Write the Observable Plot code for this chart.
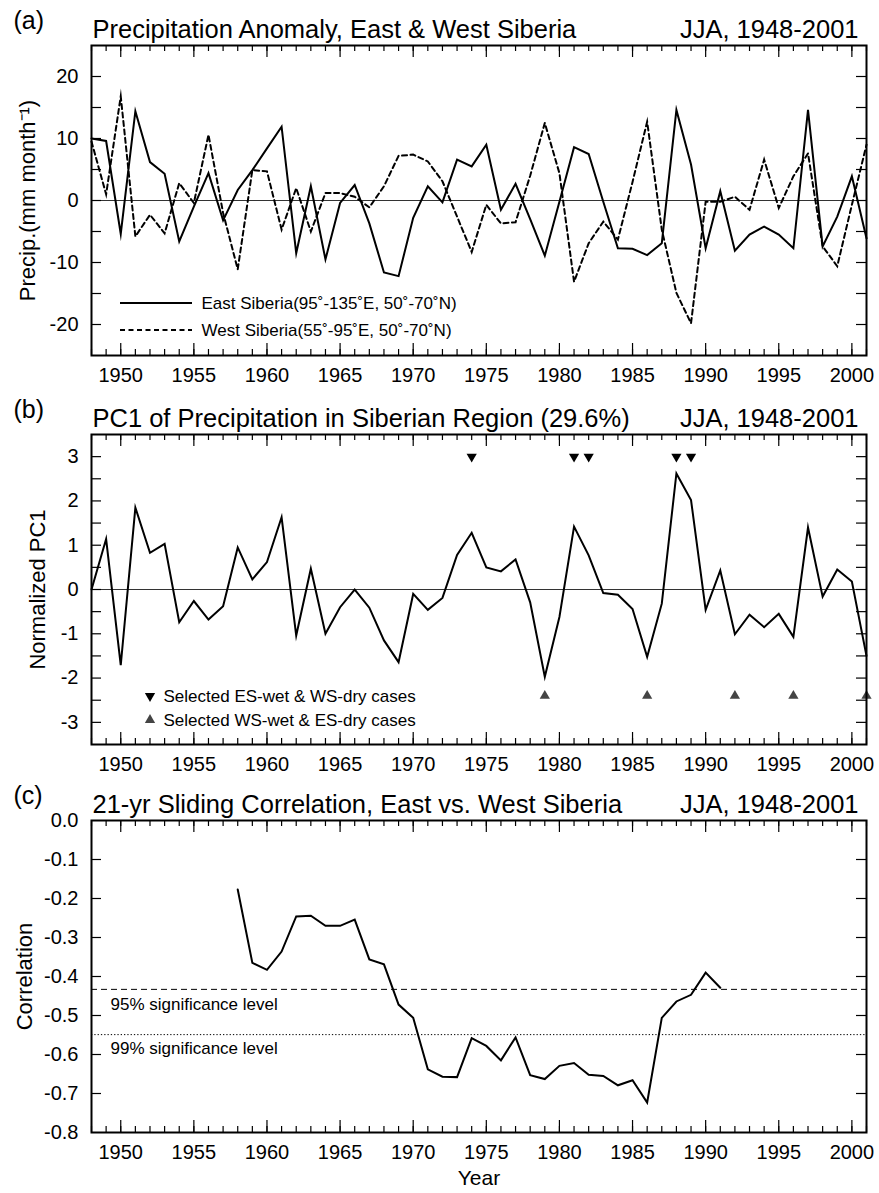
<!DOCTYPE html>
<html>
<head>
<meta charset="utf-8">
<script src="https://cdn.jsdelivr.net/npm/d3@7"></script>
<script src="https://cdn.jsdelivr.net/npm/@observablehq/plot@0.6"></script>
<style>
  body { margin: 0; background: #fff; }
  #chart { width: 879px; }
  #chart svg { display: block; }
</style>
</head>
<body>
<div id="chart"></div>
<script>
// ---------------- DATA ----------------
const startYear = 1948, endYear = 2001;
const years = d3.range(startYear, endYear + 1);
const xLabelYears = [1950, 1955, 1960, 1965, 1970, 1975, 1980, 1985, 1990, 1995, 2000];

// (a) JJA precipitation anomaly (mm/month)
const eastSiberia = [10.0, 9.6, -5.4, 14.4, 6.2, 4.3, -6.6, -1.0, 4.4, -3.2,
  1.7, 4.9, 8.4, 11.9, -8.5, 2.3, -9.5, -0.4, 2.5, -3.7,
  -11.6, -12.2, -2.8, 2.3, -0.3, 6.6, 5.5, 9.0, -1.5, 2.7,
  -3.0, -8.9, -0.2, 8.6, 7.5, -0.2, -7.7, -7.8, -8.8, -6.9,
  14.6, 5.8, -7.7, 1.5, -8.1, -5.5, -4.2, -5.5, -7.7, 14.6,
  -7.4, -2.6, 3.9, -6.1];
const westSiberia = [9.5, 1.0, 16.8, -5.8, -2.3, -5.3, 2.8, -0.4, 10.6, -2.0,
  -11.1, 4.9, 4.7, -4.7, 2.0, -5.0, 1.2, 1.2, 0.6, -1.1,
  2.3, 7.2, 7.4, 6.3, 3.1, -2.6, -8.3, -0.7, -3.7, -3.5,
  4.0, 12.5, 4.4, -13.1, -6.9, -3.4, -6.3, 3.0, 12.7, -4.7,
  -14.9, -19.8, -0.2, -0.2, 0.6, -1.5, 6.6, -1.2, 3.9, 7.6,
  -7.4, -10.6, -0.7, 9.0];
const aTickLabels = [-20, -10, 0, 10, 20];
const aTicks = [-20, -15, -10, -5, 0, 5, 10, 15, 20];

// (b) Normalized PC1
const pc1 = [0.0, 1.14, -1.71, 1.85, 0.83, 1.03, -0.74, -0.26, -0.68, -0.38,
  0.95, 0.23, 0.62, 1.63, -1.04, 0.47, -1.0, -0.4, 0.0, -0.41,
  -1.15, -1.64, -0.1, -0.46, -0.19, 0.78, 1.28, 0.50, 0.41, 0.68,
  -0.29, -1.97, -0.62, 1.42, 0.77, -0.08, -0.12, -0.44, -1.52, -0.32,
  2.62, 2.02, -0.46, 0.43, -1.01, -0.57, -0.85, -0.55, -1.07, 1.40,
  -0.16, 0.45, 0.18, -1.5];
const esWetCases = [1974, 1981, 1982, 1988, 1989];
const wsWetCases = [1979, 1986, 1992, 1996, 2001];
const esWetLevel = 3;
const wsWetLevel = -2.4;
const bTickLabels = [-3, -2, -1, 0, 1, 2, 3];
const bTicks = [-3, -2.5, -2, -1.5, -1, -0.5, 0, 0.5, 1, 1.5, 2, 2.5, 3];

// (c) 21-yr sliding correlation
const corrYears = d3.range(1958, 1992);
const slidingCorr = [-0.177, -0.365, -0.383, -0.336, -0.246, -0.244, -0.270, -0.270, -0.254, -0.356,
  -0.369, -0.472, -0.506, -0.638, -0.657, -0.658, -0.558, -0.578, -0.615, -0.556,
  -0.653, -0.663, -0.629, -0.622, -0.652, -0.655, -0.679, -0.666, -0.723, -0.506,
  -0.464, -0.447, -0.390, -0.429];
const sig95 = -0.433, sig99 = -0.549;
const cTickLabels = [0, -0.1, -0.2, -0.3, -0.4, -0.5, -0.6, -0.7, -0.8];
const cTicks = [-0.1, -0.2, -0.3, -0.4, -0.5, -0.6, -0.7];

// ---------------- LAYOUT ----------------
const W = 879, ML = 91, MR = 13;
const FONT = "'Liberation Sans', Arial, Helvetica, sans-serif";
const majorYears = d3.range(1950, 2001, 5);

function panel({height, mt, mb, yDomain, yTicks, yLabels, yFmt, marks, ytitle, ytitleDx, letter, title, extra = []}) {
  const ph = height - mt - mb, pw = W - ML - MR;
  return Plot.plot({
    width: W, height,
    marginLeft: ML, marginRight: MR, marginTop: mt, marginBottom: mb,
    style: {fontFamily: FONT, fontSize: "20px", background: "#fff", color: "#000", overflow: "visible"},
    x: {domain: [startYear, endYear], label: null},
    y: {domain: yDomain, label: null},
    marks: [
      ...marks,
      // inner ticks (all four sides)
      Plot.tickX(years, {x: d => d, insetTop: ph - 6, stroke: "#000", strokeWidth: 1.2}),
      Plot.tickX(years, {x: d => d, insetBottom: ph - 6, stroke: "#000", strokeWidth: 1.2}),
      Plot.tickX(majorYears, {x: d => d, insetTop: ph - 12, stroke: "#000", strokeWidth: 1.2}),
      Plot.tickX(majorYears, {x: d => d, insetBottom: ph - 12, stroke: "#000", strokeWidth: 1.2}),
      Plot.tickY(yTicks, {y: d => d, insetRight: pw - 10, stroke: "#000", strokeWidth: 1.2}),
      Plot.tickY(yTicks, {y: d => d, insetLeft: pw - 10, stroke: "#000", strokeWidth: 1.2}),
      Plot.axisX(xLabelYears, {tickSize: 0, tickPadding: 12, fontSize: 20, tickFormat: d => String(d), label: null}),
      Plot.axisY(yLabels, {tickSize: 0, tickPadding: 13, fontSize: 20, tickFormat: yFmt, label: null}),
      Plot.frame({stroke: "#000", strokeWidth: 2}),
      Plot.text([ytitle], {frameAnchor: "left", rotate: -90, dx: ytitleDx, lineAnchor: "middle", textAnchor: "middle", fontSize: 22}),
      Plot.text([letter], {frameAnchor: "top-left", dx: -78, dy: -25, lineAnchor: "middle", textAnchor: "start", fontSize: 25}),
      Plot.text([title], {frameAnchor: "top-left", dx: 1, dy: -16, lineAnchor: "middle", textAnchor: "start", fontSize: 25.5}),
      Plot.text(["JJA, 1948-2001"], {frameAnchor: "top-right", dx: -8, dy: -16, lineAnchor: "middle", textAnchor: "end", fontSize: 25.5}),
      ...extra
    ]
  });
}

const tableA = years.map((year, i) => ({year, east: eastSiberia[i], west: westSiberia[i], pc1: pc1[i]}));
const tableC = corrYears.map((year, i) => ({year, r: slidingCorr[i]}));

const lineStyle = {stroke: "#000", strokeWidth: 2, strokeLinejoin: "miter", strokeMiterlimit: 8};

// (a)
const svgA = panel({
  height: 390, mt: 45, mb: 35,
  yDomain: [-25, 25], yTicks: aTicks, yLabels: aTickLabels, yFmt: d => String(d),
  ytitle: "Precip.(mm month\u207B\u00B9)", ytitleDx: -64, letter: "(a)",
  title: "Precipitation Anomaly, East & West Siberia",
  marks: [
    Plot.ruleY([0], {stroke: "#333", strokeWidth: 1}),
    Plot.lineY(tableA, {x: "year", y: "west", ...lineStyle, strokeDasharray: "5,3.5"}),
    Plot.lineY(tableA, {x: "year", y: "east", ...lineStyle})
  ],
  extra: [
    Plot.text(["East Siberia(95\u02DA-135\u02DAE, 50\u02DA-70\u02DAN)"], {frameAnchor: "bottom-left", dx: 110, dy: -52, lineAnchor: "middle", textAnchor: "start", fontSize: 17}),
    Plot.text(["West Siberia(55\u02DA-95\u02DAE, 50\u02DA-70\u02DAN)"], {frameAnchor: "bottom-left", dx: 110, dy: -25, lineAnchor: "middle", textAnchor: "start", fontSize: 17})
  ]
});

// (b)
const triDown = {draw(ctx, size) {
  const y = Math.sqrt(size / (Math.sqrt(3) * 3));
  ctx.moveTo(0, 2 * y); ctx.lineTo(-Math.sqrt(3) * y, -y); ctx.lineTo(Math.sqrt(3) * y, -y); ctx.closePath();
}};
const svgB = panel({
  height: 386, mt: 44, mb: 32,
  yDomain: [-3.5, 3.5], yTicks: bTicks, yLabels: bTickLabels, yFmt: d => String(d),
  ytitle: "Normalized PC1", ytitleDx: -54, letter: "(b)",
  title: "PC1 of Precipitation in Siberian Region (29.6%)",
  marks: [
    Plot.ruleY([0], {stroke: "#333", strokeWidth: 1}),
    Plot.lineY(tableA, {x: "year", y: "pc1", ...lineStyle}),
    Plot.dot(esWetCases, {x: d => d, y: () => esWetLevel, symbol: triDown, r: 3.8, fill: "#000", stroke: null}),
    Plot.dot(wsWetCases, {x: d => d, y: () => wsWetLevel, symbol: "triangle", r: 3.8, fill: "#444", stroke: null})
  ],
  extra: [
    Plot.text(["Selected ES-wet & WS-dry cases"], {frameAnchor: "bottom-left", dx: 72, dy: -48, lineAnchor: "middle", textAnchor: "start", fontSize: 17}),
    Plot.text(["Selected WS-wet & ES-dry cases"], {frameAnchor: "bottom-left", dx: 72, dy: -24, lineAnchor: "middle", textAnchor: "start", fontSize: 17})
  ]
});

// (c)
const svgC = panel({
  height: 417, mt: 44, mb: 61,
  yDomain: [-0.8, 0], yTicks: cTicks, yLabels: cTickLabels, yFmt: d => d.toFixed(1),
  ytitle: "Correlation", ytitleDx: -67, letter: "(c)",
  title: "21-yr Sliding Correlation, East vs. West Siberia",
  marks: [
    Plot.ruleY([sig95], {stroke: "#000", strokeWidth: 1, strokeDasharray: "6,4"}),
    Plot.ruleY([sig99], {stroke: "#000", strokeWidth: 1, strokeDasharray: "1.3,2"}),
    Plot.text(["95% significance level"], {y: () => sig95, frameAnchor: "left", dx: 19, dy: 15, lineAnchor: "middle", textAnchor: "start", fontSize: 17}),
    Plot.text(["99% significance level"], {y: () => sig99, frameAnchor: "left", dx: 19, dy: 14, lineAnchor: "middle", textAnchor: "start", fontSize: 17}),
    Plot.lineY(tableC, {x: "year", y: "r", ...lineStyle})
  ],
  extra: [
    Plot.text(["Year"], {frameAnchor: "bottom", dy: 46, lineAnchor: "middle", fontSize: 21})
  ]
});

// legend samples (decoration, positioned relative to the frame)
(function () {
  const fb = 390 - 35; // frame bottom of (a)
  const g = d3.select(svgA).append("g").attr("stroke", "#000").attr("stroke-width", 2);
  g.append("line").attr("x1", ML + 29).attr("x2", ML + 101).attr("y1", fb - 52).attr("y2", fb - 52);
  g.append("line").attr("x1", ML + 29).attr("x2", ML + 101).attr("y1", fb - 25).attr("y2", fb - 25).attr("stroke-dasharray", "5,3.5");
  const fbB = 386 - 32;
  const gb = d3.select(svgB).append("g");
  const size = Math.PI * 3.8 * 3.8;
  gb.append("path").attr("d", d3.symbol(triDown, size)()).attr("fill", "#000")
    .attr("transform", `translate(${ML + 59},${fbB - 48})`);
  gb.append("path").attr("d", d3.symbol(d3.symbolTriangle, size)()).attr("fill", "#444")
    .attr("transform", `translate(${ML + 59},${fbB - 24})`);
})();

const chart = document.getElementById("chart");
chart.append(svgA, svgB, svgC);
</script>
</body>
</html>
